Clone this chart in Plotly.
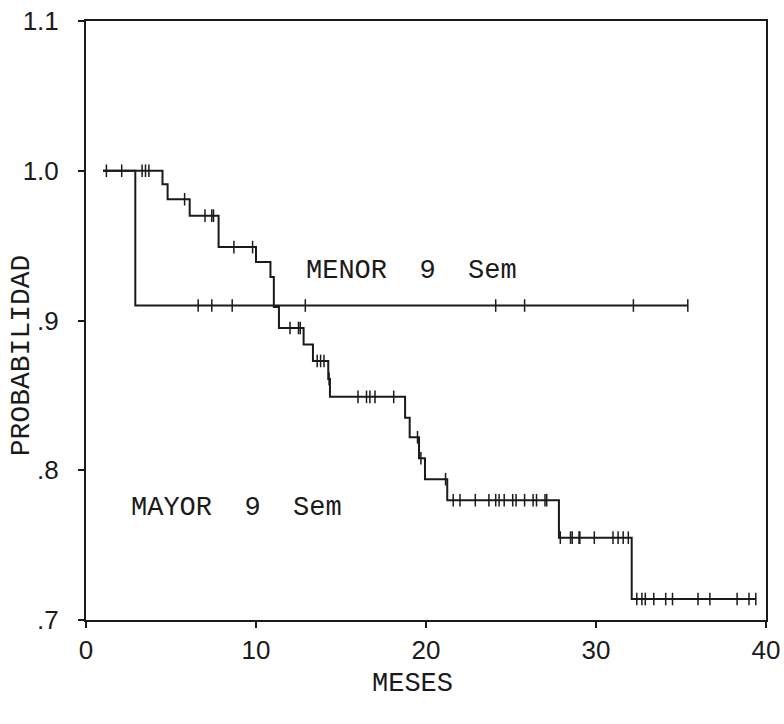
import numpy as np
import plotly.graph_objects as go

# Kaplan-Meier survival estimates (months, probability after each event)
mayor_times = [1.0, 4.5, 4.8, 6.1, 7.8, 10.0, 10.85, 11.05, 11.35, 12.8, 13.35,
               14.25, 14.35, 18.77, 19.04, 19.59, 19.94, 21.25, 27.82, 32.1]
mayor_surv = [1.0, 0.991, 0.981, 0.970, 0.949, 0.939, 0.929, 0.909, 0.895, 0.884,
              0.873, 0.861, 0.849, 0.835, 0.822, 0.808, 0.794, 0.780, 0.755, 0.714]
mayor_end = 39.4
mayor_censored = [2.1, 3.3, 3.5, 3.7, 5.8, 7.0, 7.4, 7.5, 8.7, 9.8, 12.0, 12.5, 12.6,
                  13.6, 13.8, 14.0, 14.3, 16.0, 16.5, 16.7, 17.0, 18.1, 19.5, 19.7,
                  21.15, 21.6, 22.0, 22.9, 23.7, 24.1, 24.3, 24.6, 25.1, 25.3, 25.8,
                  26.3, 26.5, 27.0, 27.1, 27.9, 28.5, 28.6, 29.0, 29.05, 29.9, 31.0,
                  31.3, 31.6, 31.9, 32.4, 32.7, 32.9, 33.4, 34.1, 34.5, 36.0, 36.7,
                  38.3, 39.0, 39.4]

menor_times = [1.0, 2.9]
menor_surv = [1.0, 0.910]
menor_end = 35.4
menor_censored = [1.2, 6.6, 7.4, 8.6, 12.9, 24.1, 25.8, 32.2, 35.4]

y_ticks = [0.7, 0.8, 0.9, 1.0, 1.1]
y_tick_text = [".7", ".8", ".9", "1.0", "1.1"]
x_ticks = [0, 10, 20, 30, 40]

MONO = "Liberation Mono, Courier New, monospace"
SANS = "Liberation Sans, Arial, sans-serif"
INK = "#1a1a1a"


def step_at(times, surv, t):
    idx = np.searchsorted(times, t, side="right") - 1
    return surv[max(idx, 0)]


fig = go.Figure()

for times, surv, end, cens in [
    (mayor_times, mayor_surv, mayor_end, mayor_censored),
    (menor_times, menor_surv, menor_end, menor_censored),
]:
    xs = list(times) + [end]
    ys = list(surv) + [surv[-1]]
    fig.add_trace(go.Scatter(x=xs, y=ys, mode="lines", line_shape="hv",
                             line=dict(color=INK, width=2), showlegend=False,
                             hoverinfo="skip"))
    cy = [step_at(times, surv, t) for t in cens]
    fig.add_trace(go.Scatter(x=cens, y=cy, mode="markers", showlegend=False,
                             marker=dict(symbol="line-ns", size=9,
                                         line=dict(color=INK, width=1.5))))

# curve labels
fig.add_annotation(x=12.8, y=0.933, text="MENOR  9  Sem", showarrow=False,
                   xanchor="left", yanchor="middle",
                   font=dict(family=MONO, size=27, color=INK))
fig.add_annotation(x=2.5, y=0.775, text="MAYOR  9  Sem", showarrow=False,
                   xanchor="left", yanchor="middle",
                   font=dict(family=MONO, size=27, color=INK))

# axis titles
fig.add_annotation(xref="paper", yref="paper", x=0, y=0.442, xshift=-65,
                   text="PROBABILIDAD", textangle=-90, showarrow=False,
                   xanchor="center", yanchor="middle",
                   font=dict(family=MONO, size=28, color=INK))
fig.add_annotation(xref="paper", yref="paper", x=0.48, y=0, yshift=-64,
                   text="MESES", showarrow=False,
                   xanchor="center", yanchor="middle",
                   font=dict(family=MONO, size=27, color=INK))

fig.update_xaxes(range=[0, 40], tickvals=x_ticks, ticks="outside", ticklen=6,
                 tickwidth=1.5, tickcolor=INK, showline=True, linecolor=INK,
                 linewidth=2, mirror=True, showgrid=False, zeroline=False,
                 automargin=False, ticklabelstandoff=0,
                 tickfont=dict(family=SANS, size=26, color=INK))
fig.update_yaxes(range=[0.7, 1.1], tickvals=y_ticks, ticktext=y_tick_text,
                 ticks="outside", ticklen=6, tickwidth=1.5, tickcolor=INK,
                 showline=True, linecolor=INK, linewidth=2, mirror=True,
                 showgrid=False, zeroline=False, automargin=False,
                 ticklabelstandoff=14,
                 tickfont=dict(family=SANS, size=26, color=INK))

fig.update_layout(width=784, height=724, plot_bgcolor="white",
                  paper_bgcolor="white",
                  margin=dict(l=86, r=18, t=21, b=104))

fig.write_html("out.html")
